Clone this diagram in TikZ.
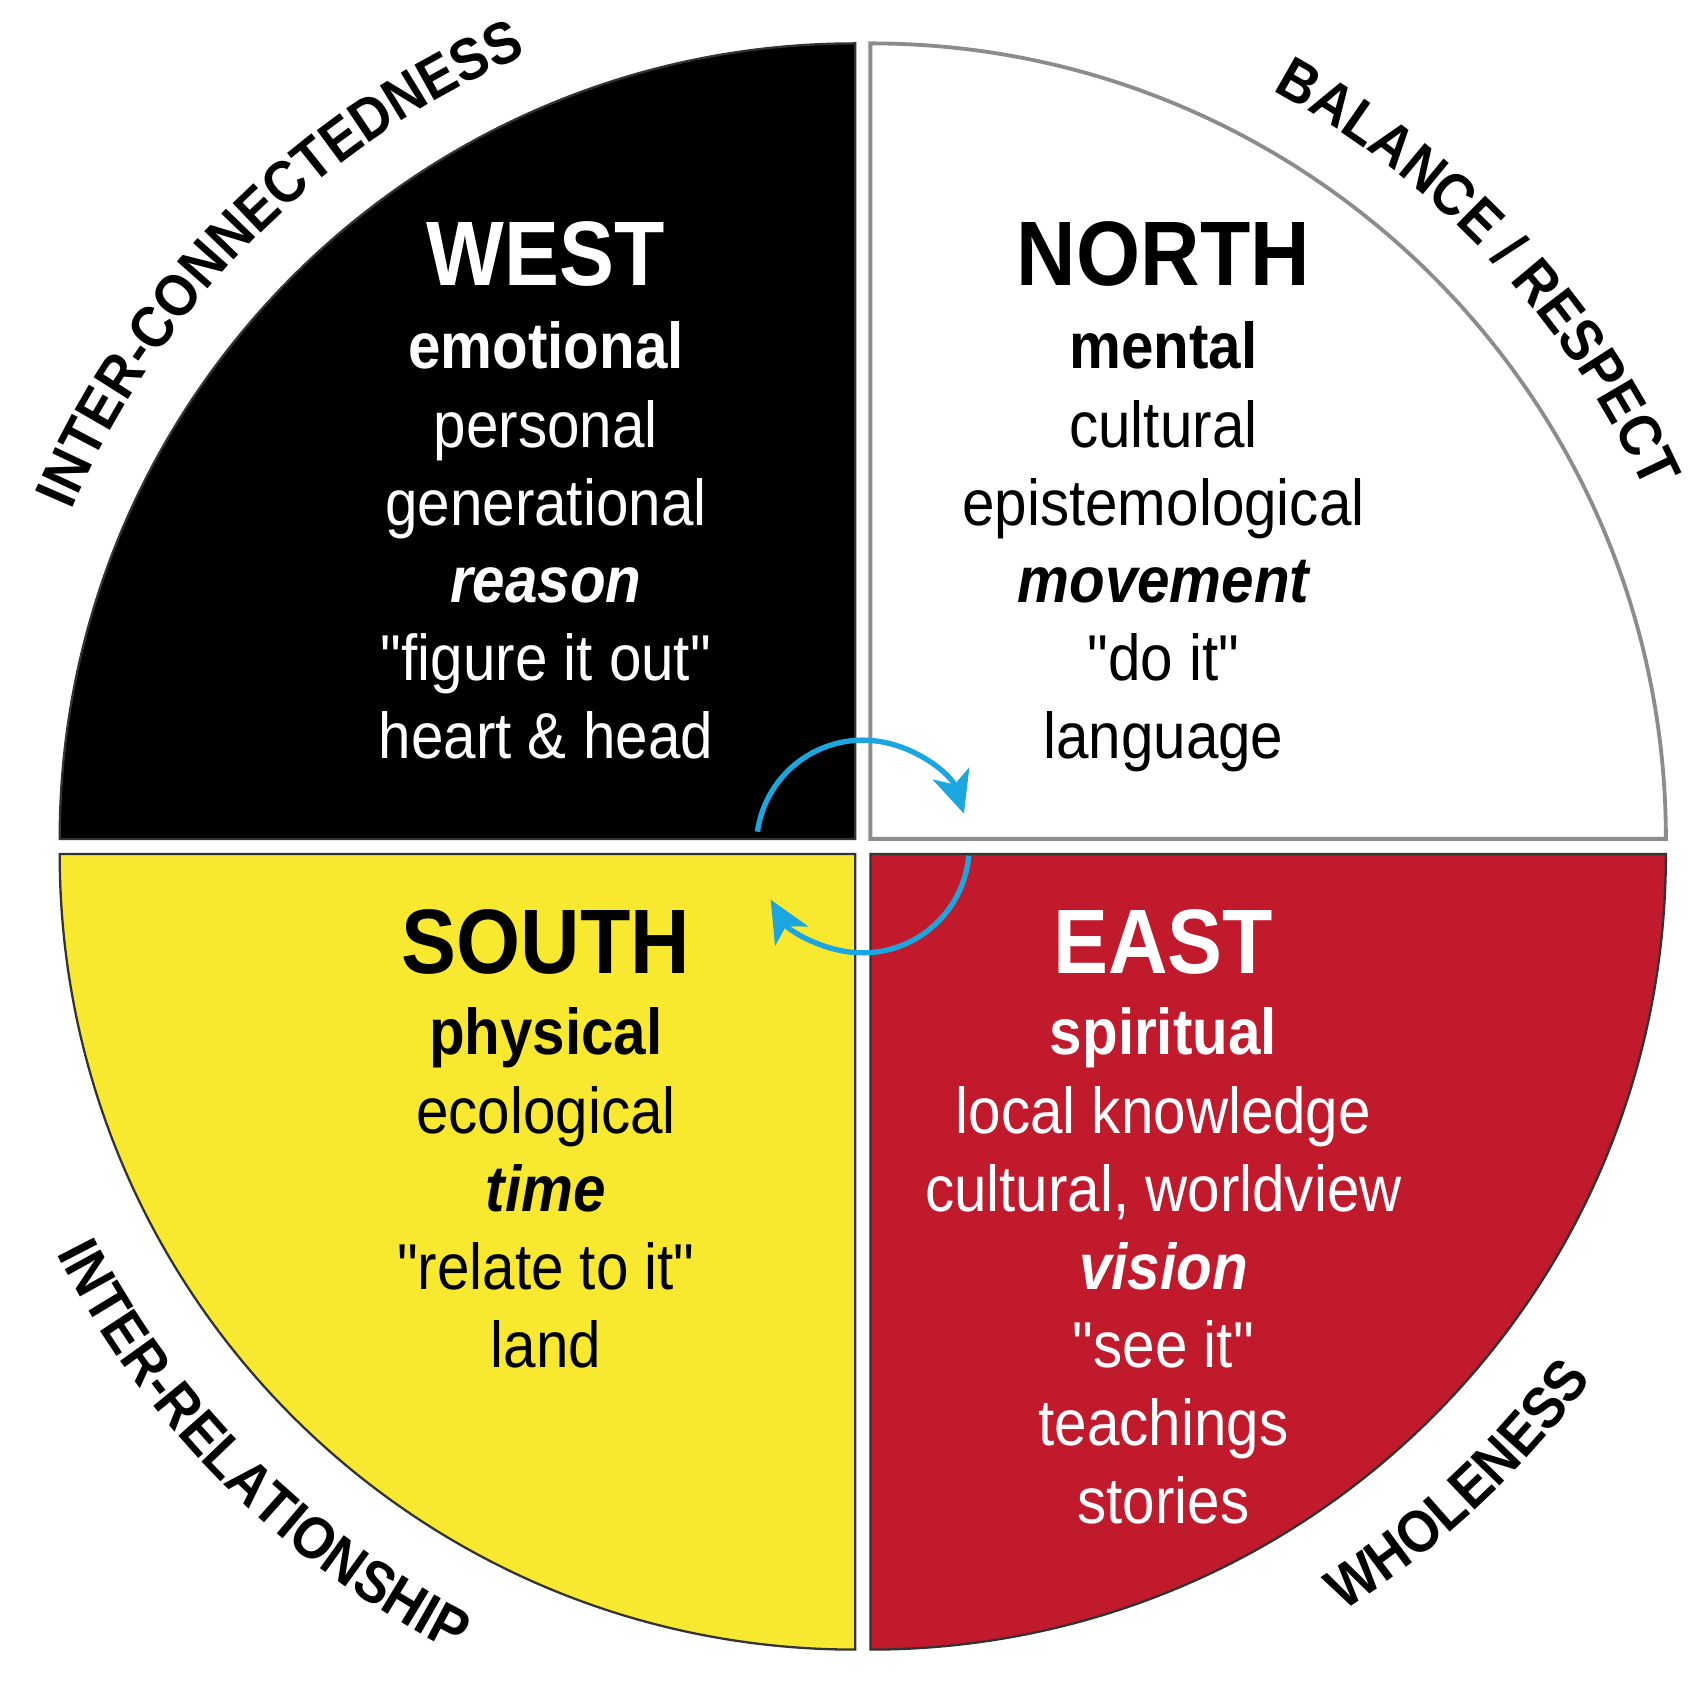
\documentclass[tikz,border=0pt]{standalone}
\usepackage{fontspec}
\setmainfont{Liberation Sans}[FakeStretch=0.9,Ligatures=TeXOff]
\usetikzlibrary{decorations.text,arrows.meta}
\definecolor{wred}{HTML}{C01A2C}
\definecolor{wyel}{HTML}{F8E830}
\definecolor{wblue}{HTML}{1CA6DF}
\newcommand{\qq}{\symbol{34}}
\begin{document}
\begin{tikzpicture}[
  ttl/.style={anchor=base,font=\fontsize{24pt}{26pt}\selectfont\bfseries},
  ln/.style={anchor=base,font=\fontsize{17pt}{19pt}\selectfont},
  lb/.style={ln,font=\fontsize{17pt}{19pt}\selectfont\bfseries},
  li/.style={ln,font=\fontsize{17pt}{19pt}\selectfont\bfseries\itshape},
  quad/.style={draw=black!80,line width=0.6pt},
  blu/.style={wblue,line width=1.4pt,-{Stealth[length=11pt,width=10pt,inset=3pt]}},
  outer/.style={decorate,decoration={text along path,text align=center,
     text={|\fontsize{15.5pt}{16pt}\selectfont\bfseries|#1}}}
]
\useasboundingbox (0,0) rectangle (15.60,15.56);
% quadrants
\fill[black,quad] (7.88,7.83) -- ++(-7.33,0) arc[start angle=180,end angle=90,radius=7.33] -- cycle;
\filldraw[fill=white,draw=black!45,line width=1pt] (8.02,7.83) -- ++(0,7.33) arc[start angle=90,end angle=0,radius=7.33] -- cycle;
\filldraw[fill=wyel,quad] (7.88,7.69) -- ++(-7.33,0) arc[start angle=180,end angle=270,radius=7.33] -- cycle;
\filldraw[fill=wred,quad] (8.02,7.69) -- ++(7.33,0) arc[start angle=0,end angle=-90,radius=7.33] -- cycle;
% outer labels
\path[outer={INTER-CONNECTEDNESS}] (7.95,7.76) ++(172:7.92) arc[start angle=172,end angle=98,radius=7.92];
\path[outer={BALANCE / RESPECT}] (7.95,7.76) ++(80:7.92) arc[start angle=80,end angle=6,radius=7.92];
\path[outer={INTER-RELATIONSHIP}] (7.95,7.76) ++(188:8.32) arc[start angle=188,end angle=262,radius=8.32];
\path[outer={WHOLENESS}] (7.95,7.76) ++(278:8.32) arc[start angle=278,end angle=348,radius=8.32];
% WEST
\begin{scope}[white]
\node[ttl] (w0) at (5.03,12.93) {WEST};
\node[lb] (w1) at (5.03,12.16) {emotional};
\node[ln] (w2) at (5.03,11.44) {personal};
\node[ln] (w3) at (5.03,10.72) {generational};
\node[li] (w4) at (5.03,10.01) {reason};
\node[ln] (w5) at (5.03,9.29) {\qq figure it out\qq};
\node[ln] (w6) at (5.03,8.57) {heart \& head};
\end{scope}
% NORTH
\node[ttl] (n0) at (10.72,12.93) {NORTH};
\node[lb] (n1) at (10.72,12.16) {mental};
\node[ln] (n2) at (10.72,11.44) {cultural};
\node[ln] (n3) at (10.72,10.72) {epistemological};
\node[li] (n4) at (10.72,10.01) {movement};
\node[ln] (n5) at (10.72,9.29) {\qq do it\qq};
\node[ln] (n6) at (10.72,8.57) {language};
% SOUTH
\node[ttl] (s0) at (5.03,6.59) {SOUTH};
\node[lb] (s1) at (5.03,5.84) {physical};
\node[ln] (s2) at (5.03,5.12) {ecological};
\node[li] (s3) at (5.03,4.40) {time};
\node[ln] (s4) at (5.03,3.68) {\qq relate to it\qq};
\node[ln] (s5) at (5.03,2.96) {land};
% EAST
\begin{scope}[white]
\node[ttl] (e0) at (10.72,6.59) {EAST};
\node[lb] (e1) at (10.72,5.84) {spiritual};
\node[ln] (e2) at (10.72,5.12) {local knowledge};
\node[ln] (e3) at (10.72,4.40) {cultural, worldview};
\node[li] (e4) at (10.72,3.68) {vision};
\node[ln] (e5) at (10.72,2.96) {\qq see it\qq};
\node[ln] (e6) at (10.72,2.24) {teachings};
\node[ln] (e7) at (10.72,1.52) {stories};
\end{scope}
% cycle arrows
\coordinate (c) at (7.95,7.76);
\draw[blu] (c) ++(172:0.98) arc[start angle=172,end angle=18,radius=0.98];
\draw[blu] (c) ++(-5:0.98) arc[start angle=-5,end angle=-150,radius=0.98];
\end{tikzpicture}
\end{document}
